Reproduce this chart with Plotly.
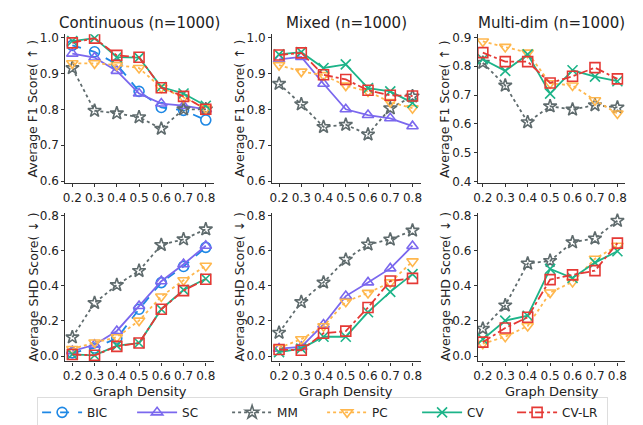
import plotly.graph_objects as go

density = [0.2, 0.3, 0.4, 0.5, 0.6, 0.7, 0.8]
methods = ["BIC", "SC", "MM", "PC", "CV", "CV-LR"]
panel_titles = ["Continuous (n=1000)", "Mixed (n=1000)", "Multi-dim (n=1000)"]

# F1 scores
f1_cont_bic = [0.978, 0.960, 0.925, 0.850, 0.805, 0.797, 0.770]
f1_cont_sc = [0.955, 0.944, 0.907, 0.844, 0.816, 0.810, 0.800]
f1_cont_mm = [0.915, 0.796, 0.789, 0.778, 0.746, 0.800, 0.800]
f1_cont_pc = [0.928, 0.928, 0.923, 0.915, 0.860, 0.833, 0.803]
f1_cont_cv = [0.990, 0.998, 0.945, 0.944, 0.862, 0.844, 0.810]
f1_cont_cvlr = [0.985, 0.998, 0.950, 0.945, 0.860, 0.836, 0.800]

f1_mix_sc = [0.939, 0.946, 0.871, 0.800, 0.784, 0.775, 0.753]
f1_mix_mm = [0.871, 0.814, 0.751, 0.757, 0.730, 0.803, 0.836]
f1_mix_pc = [0.923, 0.905, 0.895, 0.866, 0.850, 0.820, 0.803]
f1_mix_cv = [0.953, 0.959, 0.915, 0.925, 0.859, 0.850, 0.818]
f1_mix_cvlr = [0.951, 0.957, 0.896, 0.883, 0.853, 0.839, 0.837]

f1_multi_mm = [0.812, 0.733, 0.606, 0.661, 0.650, 0.665, 0.657]
f1_multi_pc = [0.886, 0.867, 0.847, 0.741, 0.733, 0.682, 0.636]
f1_multi_cv = [0.824, 0.784, 0.841, 0.705, 0.786, 0.764, 0.748]
f1_multi_cvlr = [0.847, 0.816, 0.816, 0.742, 0.765, 0.795, 0.756]

# SHD scores
shd_cont_bic = [0.018, 0.046, 0.101, 0.267, 0.419, 0.511, 0.620]
shd_cont_sc = [0.028, 0.064, 0.143, 0.285, 0.427, 0.524, 0.629]
shd_cont_mm = [0.107, 0.303, 0.405, 0.486, 0.634, 0.666, 0.723]
shd_cont_pc = [0.040, 0.077, 0.107, 0.202, 0.340, 0.432, 0.515]
shd_cont_cv = [0.009, 0.004, 0.059, 0.074, 0.267, 0.377, 0.441]
shd_cont_cvlr = [0.009, 0.004, 0.055, 0.074, 0.267, 0.373, 0.438]

shd_mix_sc = [0.042, 0.052, 0.180, 0.342, 0.420, 0.500, 0.628]
shd_mix_mm = [0.133, 0.308, 0.420, 0.550, 0.637, 0.665, 0.716]
shd_mix_pc = [0.046, 0.096, 0.170, 0.310, 0.360, 0.420, 0.540]
shd_mix_cv = [0.022, 0.042, 0.110, 0.110, 0.250, 0.366, 0.467]
shd_mix_cvlr = [0.037, 0.033, 0.130, 0.142, 0.277, 0.428, 0.443]

shd_multi_mm = [0.156, 0.289, 0.528, 0.543, 0.649, 0.671, 0.772]
shd_multi_pc = [0.070, 0.110, 0.171, 0.362, 0.423, 0.555, 0.629]
shd_multi_cv = [0.096, 0.202, 0.230, 0.497, 0.445, 0.533, 0.598]
shd_multi_cvlr = [0.079, 0.160, 0.221, 0.436, 0.463, 0.487, 0.644]

panels = [
    {"BIC": f1_cont_bic, "SC": f1_cont_sc, "MM": f1_cont_mm, "PC": f1_cont_pc, "CV": f1_cont_cv, "CV-LR": f1_cont_cvlr},
    {"SC": f1_mix_sc, "MM": f1_mix_mm, "PC": f1_mix_pc, "CV": f1_mix_cv, "CV-LR": f1_mix_cvlr},
    {"MM": f1_multi_mm, "PC": f1_multi_pc, "CV": f1_multi_cv, "CV-LR": f1_multi_cvlr},
    {"BIC": shd_cont_bic, "SC": shd_cont_sc, "MM": shd_cont_mm, "PC": shd_cont_pc, "CV": shd_cont_cv, "CV-LR": shd_cont_cvlr},
    {"SC": shd_mix_sc, "MM": shd_mix_mm, "PC": shd_mix_pc, "CV": shd_mix_cv, "CV-LR": shd_mix_cvlr},
    {"MM": shd_multi_mm, "PC": shd_multi_pc, "CV": shd_multi_cv, "CV-LR": shd_multi_cvlr},
]

style = {
    "BIC": dict(color="#1E88E5", dash="dash", symbol="circle-open"),
    "SC": dict(color="#7B68EE", dash="solid", symbol="triangle-up-open"),
    "MM": dict(color="#5F6B6D", dash="dot", symbol="star-open"),
    "PC": dict(color="#FFB74D", dash="dot", symbol="triangle-down-open"),
    "CV": dict(color="#1DB489", dash="solid", symbol="x-thin-open"),
    "CV-LR": dict(color="#E53935", dash="dashdot", symbol="square-open"),
}

W, H = 643, 425
xpix = [(53, 203), (262, 412), (470, 619)]
ypix = [(22.7, 175), (205, 357)]
xranges = [[0.169, 0.836], [0.169, 0.836], [0.178, 0.835]]
yranges_f1 = [[0.594, 1.009], [0.594, 1.009], [0.394, 0.911]]
yticks_f1 = [[0.6, 0.7, 0.8, 0.9, 1.0], [0.6, 0.7, 0.8, 0.9, 1.0], [0.4, 0.5, 0.6, 0.7, 0.8, 0.9]]
yrange_shd = [-0.031, 0.818]
yticks_shd = [0.0, 0.2, 0.4, 0.6, 0.8]

fig = go.Figure()
FONT = "DejaVu Sans"
annotations = []
layout_axes = {}

for i, pdata in enumerate(panels):
    row, col = divmod(i, 3)
    ax = i + 1
    xa = "x" if ax == 1 else f"x{ax}"
    ya = "y" if ax == 1 else f"y{ax}"
    for m in methods:
        if m not in pdata:
            continue
        s = style[m]
        fig.add_trace(go.Scatter(
            x=density, y=pdata[m], name=m, mode="lines+markers",
            xaxis=xa, yaxis=ya, legendgroup=m, showlegend=(i == 0),
            line=dict(color=s["color"], dash=s["dash"], width=1.8),
            marker=dict(symbol=s["symbol"], size=10, color=s["color"],
                        line=dict(color=s["color"], width=1.6)),
        ))
    x0, x1 = xpix[col]
    y0, y1 = ypix[row]
    common = dict(showgrid=False, zeroline=False, showline=True, linecolor="#333",
                  linewidth=1.2, ticks="outside", ticklen=3, tickcolor="#333",
                  tickfont=dict(family=FONT, size=12, color="#222"))
    layout_axes["xaxis" if ax == 1 else f"xaxis{ax}"] = dict(
        domain=[x0 / W, x1 / W], anchor=ya, range=xranges[col],
        tickvals=density, ticktext=[f"{d:.1f}" for d in density], **common)
    if row == 0:
        yr, yt = yranges_f1[col], yticks_f1[col]
    else:
        yr, yt = yrange_shd, yticks_shd
    layout_axes["yaxis" if ax == 1 else f"yaxis{ax}"] = dict(
        domain=[1 - y1 / H, 1 - y0 / H], anchor=xa, range=yr,
        tickvals=yt, ticktext=[f"{v:.1f}" for v in yt], **common)
    # y title
    annotations.append(dict(
        text="Average F1 Score( ↑ )" if row == 0 else "Average SHD Score( ↓ )",
        x=(x0 - 33) / W, y=1 - (y0 + y1) / 2 / H, xref="paper", yref="paper",
        textangle=-90, showarrow=False, xanchor="center", yanchor="middle",
        font=dict(family=FONT, size=12.5, color="#222")))
    if row == 0:
        annotations.append(dict(
            text=panel_titles[col], x=(x0 + x1) / 2 / W, y=1 - 11 / H,
            xref="paper", yref="paper", showarrow=False, xanchor="center", yanchor="middle",
            font=dict(family=FONT, size=15, color="#222")))
    else:
        annotations.append(dict(
            text="Graph Density", x=(x0 + x1) / 2 / W, y=1 - 388 / H,
            xref="paper", yref="paper", showarrow=False, xanchor="center", yanchor="middle",
            font=dict(family=FONT, size=13, color="#222")))

fig.update_layout(
    width=W, height=H, margin=dict(l=0, r=0, t=0, b=0),
    paper_bgcolor="white", plot_bgcolor="white",
    annotations=annotations,
    legend=dict(orientation="h", x=313 / W, xanchor="center", y=1 - 409 / H, yanchor="middle",
                bordercolor="#DDDDDD", borderwidth=1, bgcolor="white",
                font=dict(family=FONT, size=12, color="#222"),
                entrywidth=40, entrywidthmode="pixels", itemwidth=40),
    **layout_axes,
)

fig.write_html("out.html")
